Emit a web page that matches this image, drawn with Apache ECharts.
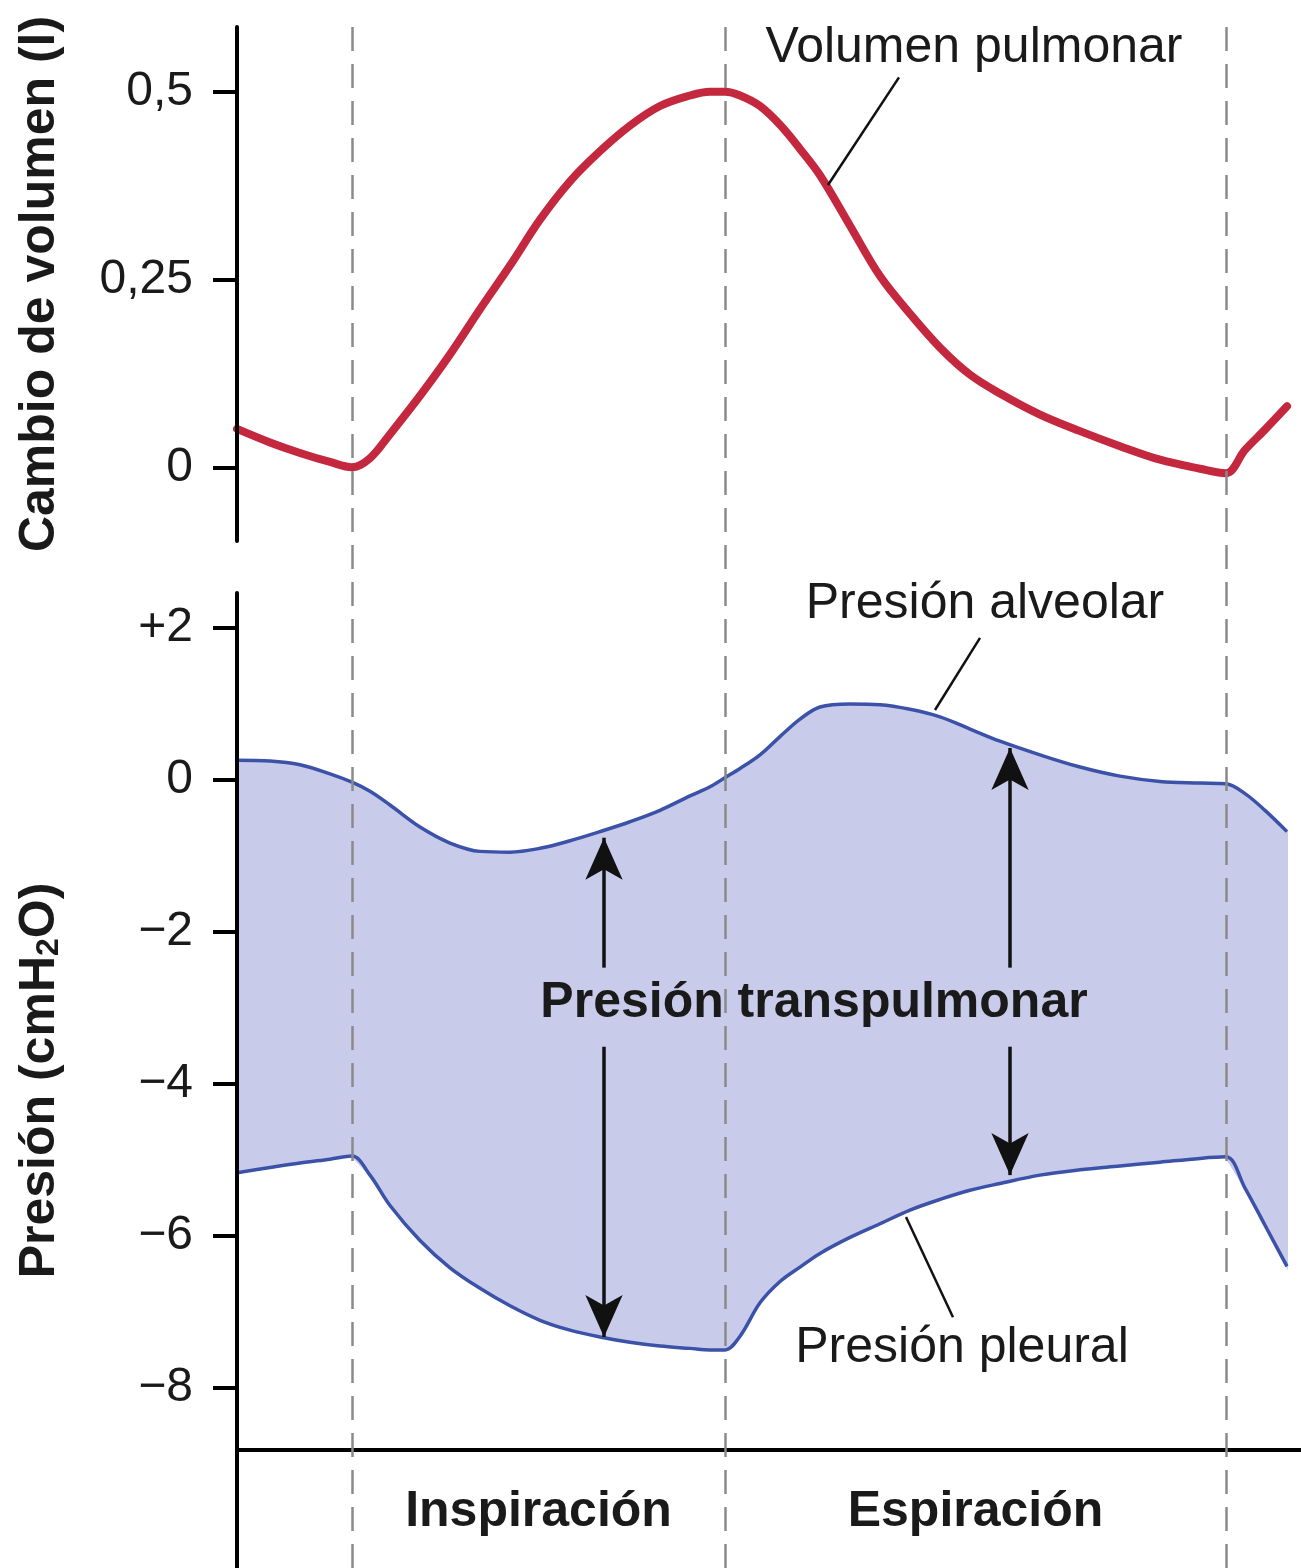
<!DOCTYPE html>
<html><head><meta charset="utf-8">
<script src="https://cdn.jsdelivr.net/npm/echarts@6/dist/echarts.min.js"></script>
<style>html,body{margin:0;padding:0;background:#fff}#c{width:1301px;height:1568px}</style>
</head><body><div id="c"></div>
<script>
// ---- data (time in arbitrary units along the breathing cycle) ----
const phaseBounds = [1.15, 4.88, 9.89];
const phases = ['Inspiración', 'Espiración'];
const tSamples = [0, 0.33, 0.63, 0.93, 1.15, 1.33, 1.53, 1.83, 2.13, 2.43, 2.73, 3.03, 3.33, 3.63, 3.93, 4.23, 4.53, 4.73, 4.88, 5.03, 5.23, 5.43, 5.63, 5.83, 6.13, 6.43, 6.73, 7.03, 7.33, 7.63, 8.03, 8.43, 8.83, 9.23, 9.63, 9.89, 10.08, 10.28, 10.50];
const volume = [0.052, 0.034, 0.020, 0.008, 0.001, 0.013, 0.045, 0.096, 0.151, 0.211, 0.269, 0.330, 0.381, 0.421, 0.455, 0.481, 0.495, 0.500, 0.500, 0.495, 0.481, 0.456, 0.424, 0.389, 0.322, 0.255, 0.205, 0.160, 0.124, 0.099, 0.071, 0.049, 0.029, 0.011, -0.001, -0.007, 0.024, 0.051, 0.082];
const alveolar = [0.26, 0.25, 0.20, 0.08, -0.03, -0.15, -0.33, -0.62, -0.83, -0.94, -0.95, -0.90, -0.80, -0.68, -0.55, -0.40, -0.21, -0.09, 0.03, 0.15, 0.33, 0.57, 0.80, 0.96, 1.00, 0.99, 0.93, 0.83, 0.67, 0.51, 0.33, 0.17, 0.05, -0.02, -0.04, -0.05, -0.18, -0.40, -0.68];
const pleural = [-5.17, -5.10, -5.04, -4.99, -4.95, -5.20, -5.60, -6.06, -6.42, -6.69, -6.92, -7.11, -7.24, -7.33, -7.40, -7.45, -7.48, -7.50, -7.50, -7.32, -6.88, -6.60, -6.41, -6.23, -6.02, -5.84, -5.66, -5.52, -5.40, -5.31, -5.20, -5.13, -5.08, -5.03, -4.98, -4.96, -5.37, -5.86, -6.40];
const volTicks = [0, 0.25, 0.5];
const presTicks = [-8, -6, -4, -2, 0, 2];

// ---- styling ----
const FONT = "'Liberation Sans', Arial, Helvetica, sans-serif";
const INK = '#1a1a1a';
const RED = '#c4283f';
const BLUE = '#3b52a8';
const FILL = '#c9cbea';
const X_MAX = 10.64;
const SMOOTH = 0.35;

const volPts = tSamples.map((t, i) => [t, volume[i]]);
const plePts = tSamples.map((t, i) => [t, pleural[i]]);
const alvPts = tSamples.map((t, i) => [t, alveolar[i]]);

const chart = echarts.init(document.getElementById('c'));

function yAxisBase(grid, min, max, ticks, fmt, name, gap) {
  return {
    type: 'value', gridIndex: grid, min: min, max: max, z: 10,
    name: name, nameLocation: 'middle', nameGap: gap, nameRotate: 90,
    nameTextStyle: {
      fontFamily: FONT, fontSize: 50, fontWeight: 'bold', color: INK,
      rich: {
        a: {fontFamily: FONT, fontSize: 50, fontWeight: 'bold', color: INK},
        s: {fontFamily: FONT, fontSize: 32, fontWeight: 'bold', color: INK, verticalAlign: 'bottom'}
      }
    },
    axisLine: {show: true, onZero: false, lineStyle: {color: '#000', width: 4}},
    axisTick: {show: true, length: 24, customValues: ticks, lineStyle: {color: '#000', width: 4}},
    axisLabel: {customValues: ticks, margin: 44, fontFamily: FONT, fontSize: 48, color: INK, formatter: fmt},
    splitLine: {show: false}
  };
}

const option = {
  animation: false,
  backgroundColor: '#ffffff',
  grid: [
    {left: 237, right: 0, top: 27, height: 514},
    {left: 237, right: 0, top: 593, bottom: 0},
    {left: 237, right: 0, top: 18, bottom: 0}
  ],
  xAxis: [0, 1, 2].map(i => ({type: 'value', gridIndex: i, min: 0, max: X_MAX, show: false})),
  yAxis: [
    yAxisBase(0, -0.097, 0.586, volTicks, v => String(v).replace('.', ','), 'Cambio de volumen (l)', 172),
    yAxisBase(1, -10.37, 2.46, presTicks, v => v > 0 ? '+' + v : (v < 0 ? '\u2212' + Math.abs(v) : '0'),
      '{a|Presión (cmH}{s|2}{a|O)}', 172),
    {type: 'value', gridIndex: 2, min: 0, max: 1, show: false}
  ],
  series: [
    {
      name: 'Volumen pulmonar', type: 'line', xAxisIndex: 0, yAxisIndex: 0,
      data: volPts, smooth: SMOOTH, showSymbol: false, silent: true,
      lineStyle: {color: RED, width: 8, cap: 'round', join: 'round'}, z: 3,
      markLine: {
        silent: true, symbol: ['none', 'none'], label: {show: false},
        lineStyle: {color: '#111', width: 2.5, type: 'solid'},
        data: [[{coord: [6.62, 0.519]}, {coord: [5.91, 0.376]}]]
      }
    },
    {
      // transpulmonary band: filled region between alveolar and pleural curves
      name: 'Presión transpulmonar', type: 'custom', xAxisIndex: 1, yAxisIndex: 1,
      data: [[0, 0]], silent: true, z: 1,
      renderItem: function (params, api) {
        const up = alvPts.map(p => api.coord(p));
        const down = plePts.slice().reverse().map(p => api.coord(p));
        return {type: 'polygon', shape: {points: up.concat(down)}, style: {fill: FILL, stroke: FILL, lineWidth: 2}};
      }
    },
    {
      name: 'Presión pleural', type: 'line', xAxisIndex: 1, yAxisIndex: 1,
      data: plePts, smooth: SMOOTH, showSymbol: false, silent: true, z: 4,
      lineStyle: {color: BLUE, width: 3.5, join: 'round'},
      markLine: {
        silent: true, symbol: ['none', 'none'], label: {show: false},
        lineStyle: {color: '#111', width: 2.5, type: 'solid'},
        data: [
          [{coord: [7.43, 1.87]}, {coord: [6.98, 0.92]}],
          [{coord: [6.69, -5.75]}, {coord: [7.16, -7.07]}],
          {yAxis: -8.82, lineStyle: {color: '#000', width: 4}}
        ]
      }
    },
    {
      name: 'Presión alveolar', type: 'line', xAxisIndex: 1, yAxisIndex: 1,
      data: alvPts, smooth: SMOOTH, showSymbol: false, silent: true, z: 4,
      lineStyle: {color: BLUE, width: 3.5, join: 'round'}
    },
    {
      name: 'flechas', type: 'line', xAxisIndex: 1, yAxisIndex: 1, data: [], silent: true, z: 6,
      markLine: {
        silent: true, symbol: ['none', 'arrow'], symbolSize: [28, 42], label: {show: false},
        lineStyle: {color: '#111', width: 3.5, type: 'solid'},
        data: [
          [{coord: [3.67, -2.47]}, {coord: [3.67, -0.76]}],
          [{coord: [3.67, -3.51]}, {coord: [3.67, -7.33]}],
          [{coord: [7.73, -2.47]}, {coord: [7.73, 0.42]}],
          [{coord: [7.73, -3.51]}, {coord: [7.73, -5.20]}]
        ]
      }
    },
    {
      name: 'fases', type: 'line', xAxisIndex: 2, yAxisIndex: 2, data: [], silent: true, z: 8,
      markLine: {
        silent: true, symbol: ['none', 'none'], label: {show: false},
        lineStyle: {color: '#8a8a8a', width: 2.5, type: [24, 13]},
        data: phaseBounds.map(v => ({xAxis: v}))
      }
    }
  ]
};
chart.setOption(option);

const txt = (id, text, x, y, bold) => ({
  type: 'text', id: id, x: x, y: y, z: 100, silent: true,
  style: {text: text, fill: INK, font: (bold ? 'bold ' : '') + '50px ' + FONT, align: 'center', verticalAlign: 'middle'}
});
const graphics = [
  txt('vp', 'Volumen pulmonar', 974, 48, false),
  txt('pa', 'Presión alveolar', 985, 604, false),
  txt('pt', 'Presión transpulmonar', 814, 1003, true),
  txt('pp', 'Presión pleural', 962, 1348, false)
];
phases.forEach((p, i) => {
  const mid = (phaseBounds[i] + phaseBounds[i + 1]) / 2;
  const px = chart.convertToPixel({xAxisIndex: 1}, mid);
  graphics.push(txt('ph' + i, p, px, 1512, true));
});
chart.setOption({graphic: graphics});
</script></body></html>
